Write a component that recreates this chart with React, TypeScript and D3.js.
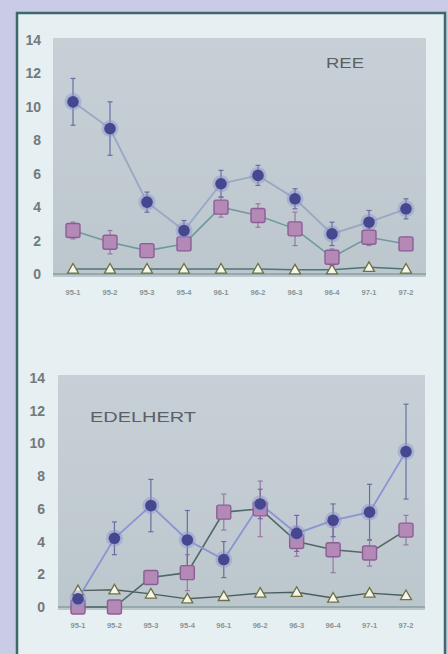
import React from "react";
import * as d3 from "d3";

const periods = ["95-1", "95-2", "95-3", "95-4", "96-1", "96-2", "96-3", "96-4", "97-1", "97-2"];
const yTicks = [0, 2, 4, 6, 8, 10, 12, 14];

// REE
const reeCircle = [10.3, 8.7, 4.3, 2.6, 5.4, 5.9, 4.5, 2.4, 3.1, 3.9];
const reeCircleErr = [1.4, 1.6, 0.6, 0.6, 0.8, 0.6, 0.6, 0.7, 0.7, 0.6];
const reeSquare = [2.6, 1.9, 1.4, 1.8, 4.0, 3.5, 2.7, 1.0, 2.2, 1.8];
const reeSquareErr = [0.5, 0.7, 0.3, 0.4, 0.6, 0.7, 1.0, 0.5, 0.5, 0.4];
const reeTriangle = [0.3, 0.3, 0.3, 0.3, 0.3, 0.3, 0.25, 0.25, 0.4, 0.3];

// EDELHERT
const edCircle = [0.5, 4.2, 6.2, 4.1, 2.9, 6.3, 4.5, 5.3, 5.8, 9.5];
const edCircleErr = [0.3, 1.0, 1.6, 1.8, 1.1, 0.9, 1.1, 1.0, 1.7, 2.9];
const edSquare = [0.0, 0.0, 1.8, 2.1, 5.8, 6.0, 4.0, 3.5, 3.3, 4.7];
const edSquareErr = [0.2, 0.2, 0.4, 1.1, 1.1, 1.7, 0.9, 1.4, 0.8, 0.9];
const edTriangle = [1.0, 1.05, 0.8, 0.5, 0.65, 0.85, 0.9, 0.55, 0.85, 0.7];

type PanelProps = {
  title: string;
  titleX: number;
  titleY: number;
  titleWidth: number;
  left: number;
  right: number;
  top: number;
  bottom: number;
  zeroY: number;
  maxY: number;
  firstX: number;
  lastX: number;
  circle: number[];
  circleErr: number[];
  square: number[];
  squareErr: number[];
  triangle: number[];
  circleLine: string;
  squareLine: string;
  triLine: string;
  labelRight: number;
  gradId: string;
};

function Panel(p: PanelProps) {
  const x = d3.scalePoint<string>().domain(periods).range([p.firstX, p.lastX]);
  const y = d3.scaleLinear().domain([0, 14]).range([p.zeroY, p.maxY]);
  const line = d3
    .line<number>()
    .x((_, i) => x(periods[i]) as number)
    .y((v) => y(v));

  const errBars = (vals: number[], errs: number[], color: string) =>
    vals.map((v, i) => {
      const cx = x(periods[i]) as number;
      const y1 = y(v + errs[i]);
      const y2 = y(Math.max(0, v - errs[i]));
      return (
        <g key={i} stroke={color} strokeWidth={1.2} opacity={0.75}>
          <line x1={cx} x2={cx} y1={y1} y2={y2} />
          <line x1={cx - 2.5} x2={cx + 2.5} y1={y1} y2={y1} />
          <line x1={cx - 2.5} x2={cx + 2.5} y1={y2} y2={y2} />
        </g>
      );
    });

  const tri = (cx: number, cy: number) => {
    const s = 5.5;
    return `M${cx},${cy - s}L${cx + s},${cy + s * 0.75}L${cx - s},${cy + s * 0.75}Z`;
  };

  return (
    <g>
      <defs>
        <linearGradient id={p.gradId} x1="0" x2="0" y1="0" y2="1">
          <stop offset="0" stopColor="#c7d0d6" />
          <stop offset="1" stopColor="#bcc7cd" />
        </linearGradient>
      </defs>
      <rect
        x={p.left}
        y={p.top}
        width={p.right - p.left}
        height={p.bottom - p.top}
        fill={`url(#${p.gradId})`}
      />
      <line x1={p.left} x2={p.right} y1={p.zeroY} y2={p.zeroY} stroke="#6f8a8a" strokeWidth={1} />
      {yTicks.map((t) => (
        <text
          key={t}
          x={p.labelRight}
          y={y(t)}
          dy="0.36em"
          textAnchor="end"
          fontSize={14}
          fontWeight="bold"
          fill="#727a7c"
          fontFamily="Liberation Sans, Arial, sans-serif"
        >
          {t}
        </text>
      ))}
      {periods.map((c) => (
        <text
          key={c}
          x={x(c) as number}
          y={p.zeroY + 21}
          textAnchor="middle"
          fontSize={7.5}
          fontWeight="bold"
          fill="#8a9496"
          fontFamily="Liberation Sans, Arial, sans-serif"
        >
          {c}
        </text>
      ))}
      <text
        x={p.titleX}
        y={p.titleY}
        fontSize={14}
        textLength={p.titleWidth}
        lengthAdjust="spacingAndGlyphs"
        fill="#5a6164"
        fontFamily="Liberation Sans, Arial, sans-serif"
      >
        {p.title}
      </text>

      <path d={line(p.triangle) as string} fill="none" stroke={p.triLine} strokeWidth={1.4} />
      <path d={line(p.square) as string} fill="none" stroke={p.squareLine} strokeWidth={1.6} />
      <path d={line(p.circle) as string} fill="none" stroke={p.circleLine} strokeWidth={1.8} />

      {errBars(p.circle, p.circleErr, "#4d4f95")}
      {errBars(p.square, p.squareErr, "#8a5e98")}

      {p.triangle.map((v, i) => (
        <path
          key={i}
          d={tri(x(periods[i]) as number, y(v))}
          fill="#f4f6ee"
          stroke="#6e7040"
          strokeWidth={1.3}
        />
      ))}
      {p.square.map((v, i) => (
        <rect
          key={i}
          x={(x(periods[i]) as number) - 7}
          y={y(v) - 7}
          width={14}
          height={14}
          rx={2}
          fill="#b489b6"
          stroke="#8c5e98"
          strokeWidth={1.4}
        />
      ))}
      {p.circle.map((v, i) => (
        <g key={i}>
          <circle cx={x(periods[i]) as number} cy={y(v)} r={8.5} fill="#8f93d0" opacity={0.45} />
          <circle cx={x(periods[i]) as number} cy={y(v)} r={5.8} fill="#46488f" />
        </g>
      ))}
    </g>
  );
}

export default function App() {
  return (
    <svg
      width={448}
      height={654}
      style={{ position: "absolute", left: 0, top: 0, display: "block" }}
    >
      <rect x={0} y={0} width={448} height={654} fill="#c9cbe7" />
      <rect x={17} y={13} width={428} height={660} fill="#e6eff1" stroke="#3f6868" strokeWidth={2.5} />
      <Panel
        title="REE"
        titleX={326}
        titleY={68}
        titleWidth={38}
        left={53}
        right={426}
        top={38}
        bottom={277}
        zeroY={274}
        maxY={40}
        firstX={73}
        lastX={406}
        circle={reeCircle}
        circleErr={reeCircleErr}
        square={reeSquare}
        squareErr={reeSquareErr}
        triangle={reeTriangle}
        circleLine="#9aa6c4"
        squareLine="#6f9a9a"
        triLine="#4f7474"
        labelRight={41}
        gradId="gRee"
      />
      <Panel
        title="EDELHERT"
        titleX={90}
        titleY={422}
        titleWidth={106}
        left={58}
        right={425}
        top={375}
        bottom={610}
        zeroY={607}
        maxY={378}
        firstX={78}
        lastX={406}
        circle={edCircle}
        circleErr={edCircleErr}
        square={edSquare}
        squareErr={edSquareErr}
        triangle={edTriangle}
        circleLine="#8c93d4"
        squareLine="#4f6a66"
        triLine="#4a5e5e"
        labelRight={45}
        gradId="gEd"
      />
    </svg>
  );
}
